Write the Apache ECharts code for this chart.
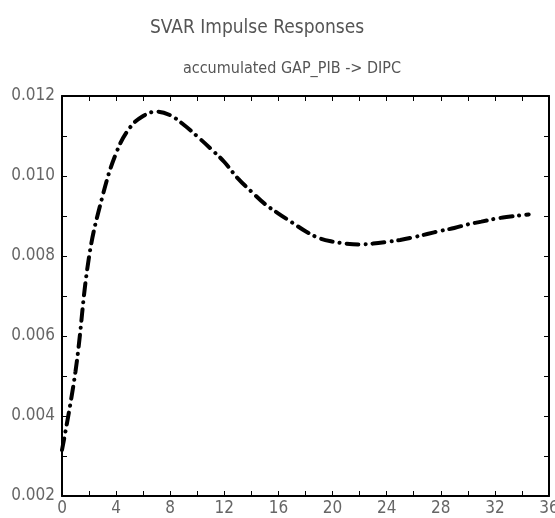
<!DOCTYPE html>
<html>
<head>
<meta charset="utf-8">
<script src="https://cdn.jsdelivr.net/npm/echarts@6/dist/echarts.min.js"></script>
<style>html,body{margin:0;padding:0;background:#fff}#c{width:555px;height:518px}</style>
</head>
<body>
<div id="c"></div>
<script>
const titleText = 'SVAR Impulse Responses';
const subtitleText = 'accumulated GAP_PIB -> DIPC';
const periods = [0,1,2,3,4,5,6,7,8,9,10,11,12,13,14,15,16,17,18,19,20,21,22,23,24,25,26,27,28,29,30,31,32,33,34,34.5];
const response = [0.00315,0.00512,0.00798,0.0095,0.01057,0.0112,0.0115,0.01161,0.01152,0.01128,0.01099,0.01068,0.01035,0.00994,0.00961,0.0093,0.00906,0.00884,0.00862,0.00845,0.00836,0.00831,0.00829,0.00831,0.00835,0.0084,0.00847,0.00855,0.00863,0.0087,0.00879,0.00886,0.00893,0.00898,0.00902,0.00904];
const xTicks = [0,4,8,12,16,20,24,28,32,36];
const yTicks = [0.002,0.004,0.006,0.008,0.010,0.012];

const FONT = '"DejaVu Sans Condensed", "DejaVu Sans", sans-serif';
const chart = echarts.init(document.getElementById('c'));
function axisLine(){ return {show:true, onZero:false, lineStyle:{color:'#000', width:2}}; }
function tick(){ return {show:true, inside:true, length:5, lineStyle:{color:'#000', width:1}}; }
chart.setOption({
  animation:false,
  backgroundColor:'#fff',
  title:[
    {text:titleText, left:252, top:14, textAlign:'center',
     textStyle:{fontFamily:FONT, fontWeight:'normal', fontSize:19, color:'#555'}},
    {text:subtitleText, left:287, top:56, textAlign:'center',
     textStyle:{fontFamily:FONT, fontWeight:'normal', fontSize:16, color:'#555'}}
  ],
  grid:{left:62, right:6, top:96, bottom:22, containLabel:false, outerBoundsMode:'none'},
  xAxis:[
    {type:'value', min:0, max:36, interval:2, position:'bottom',
     axisLine:axisLine(), axisTick:tick(), splitLine:{show:false},
     axisLabel:{show:true, margin:4, fontFamily:FONT, fontSize:17, color:'#666',
       showMaxLabel:true,
       formatter:function(v){return xTicks.indexOf(v)>=0 ? String(v) : '';}}},
    {type:'value', min:0, max:36, interval:2, position:'top',
     axisLine:axisLine(), axisTick:tick(), splitLine:{show:false}, axisLabel:{show:false}}
  ],
  yAxis:[
    {type:'value', min:0.002, max:0.012, interval:0.001, position:'left',
     axisLine:axisLine(), axisTick:tick(), splitLine:{show:false},
     axisLabel:{show:true, inside:false, margin:7, fontFamily:FONT, fontSize:17, color:'#666',
       formatter:function(v){
         for (const t of yTicks){ if (Math.abs(t-v)<1e-9) return t.toFixed(3); }
         return '';
       }}},
    {type:'value', min:0.002, max:0.012, interval:0.001, position:'right',
     axisLine:axisLine(), axisTick:tick(), splitLine:{show:false}, axisLabel:{show:false}}
  ],
  series:[{
    type:'line', xAxisIndex:0, yAxisIndex:0,
    data: periods.map((p,i)=>[p, response[i]]),
    symbol:'none', smooth:0.4,
    lineStyle:{color:'#000', width:4, type:[12,7,0.1,7], cap:'round'}
  }]
});
</script>
</body>
</html>
